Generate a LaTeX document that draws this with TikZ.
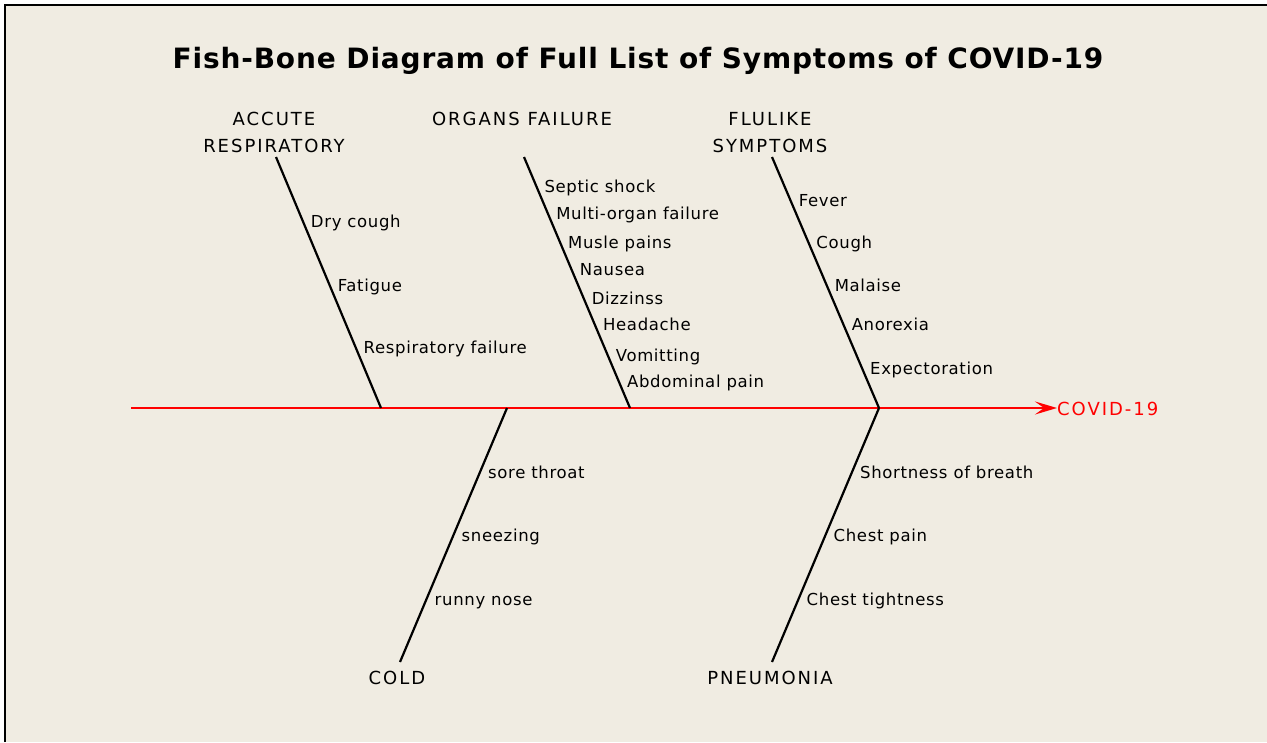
\documentclass[tikz,border=0pt]{standalone}
\usepackage{fontspec}
\setmainfont{DejaVu Sans}[LetterSpace=4]
\newfontfamily\catfont{DejaVu Sans}[LetterSpace=11]
\newfontfamily\titlefont{DejaVu Sans}[LetterSpace=3]
\usetikzlibrary{arrows.meta,positioning}
\definecolor{paper}{RGB}{240,236,226}
\begin{document}
\begin{tikzpicture}[x=1pt,y=-1pt,
  bone/.style={line width=2.2pt},
  spine/.style={-{Stealth[length=22pt,width=13pt,inset=9pt]},line width=2.2pt,red},
  cause/.style={font=\catfont\fontsize{18pt}{27pt}\selectfont,align=center,inner sep=0pt},
  symptom/.style={anchor=west,inner sep=0pt,xshift=8pt,text height=12pt,text depth=0pt,font=\fontsize{16.5pt}{20pt}\selectfont}]
\useasboundingbox (0,0) rectangle (1267,742);
\fill[paper] (5,5) rectangle (1267,742);
\draw[line width=1.5pt] (5,742) -- (5,5) -- (1267,5);
\node[font=\titlefont\bfseries\fontsize{28pt}{32pt}\selectfont] (title) at (638,61) {Fish-Bone Diagram of Full List of Symptoms of COVID-19};
% spine
\coordinate (tail) at (131,408);
\node[cause,red,anchor=west] (covid) at (1057,409) {COVID-19};
\draw[spine] (tail) -- (tail -| covid.west);
% where the bones meet the spine
\coordinate (j1) at (381,408);
\coordinate (j2) at (630,408);
\coordinate (j3) at (879,408);
\coordinate (j4) at (507,408);
% free ends of the bones
\coordinate (t1) at (276,157);
\coordinate (t2) at (524,157);
\coordinate (t3) at (772,157);
\coordinate (b4) at (400,662);
\coordinate (b5) at (772,662);
% causes
\node[cause,above=4pt of t1,xshift=-2pt] (acr) {ACCUTE\\RESPIRATORY};
\node[cause,above=31pt of t2,xshift=-2pt] (orgf) {ORGANS FAILURE};
\node[cause,above=4pt of t3,xshift=-2pt] (flu) {FLULIKE\\SYMPTOMS};
\node[cause,below=9pt of b4,xshift=-3pt] (cold) {COLD};
\node[cause,below=9pt of b5,xshift=-2pt] (pneu) {PNEUMONIA};
\draw[bone] (t1) -- (j1);
\draw[bone] (t2) -- (j2);
\draw[bone] (t3) -- (j3);
\draw[bone] (j4) -- (b4);
\draw[bone] (j3) -- (b5);
% symptoms along each bone
\foreach \p/\s [count=\i] in {.255/Dry cough,.51/Fatigue,.757/Respiratory failure}
  \path (t1) -- (j1) node[symptom,pos=\p] (acr\i) {\s};
\foreach \p/\s [count=\i] in {.116/Septic shock,.227/Multi-organ failure,.339/Musle pains,.45/Nausea,.562/Dizzinss,.669/Headache,.789/Vomitting,.896/Abdominal pain}
  \path (t2) -- (j2) node[symptom,pos=\p] (orgf\i) {\s};
\foreach \p/\s [count=\i] in {.175/Fever,.339/Cough,.51/Malaise,.669/Anorexia,.841/Expectoration}
  \path (t3) -- (j3) node[symptom,pos=\p] (flu\i) {\s};
\foreach \p/\s [count=\i] in {.252/sore throat,.5/sneezing,.752/runny nose}
  \path (j4) -- (b4) node[symptom,pos=\p] (cold\i) {\s};
\foreach \p/\s [count=\i] in {.252/Shortness of breath,.5/Chest pain,.752/Chest tightness}
  \path (j3) -- (b5) node[symptom,pos=\p] (pneu\i) {\s};
\end{tikzpicture}
\end{document}
